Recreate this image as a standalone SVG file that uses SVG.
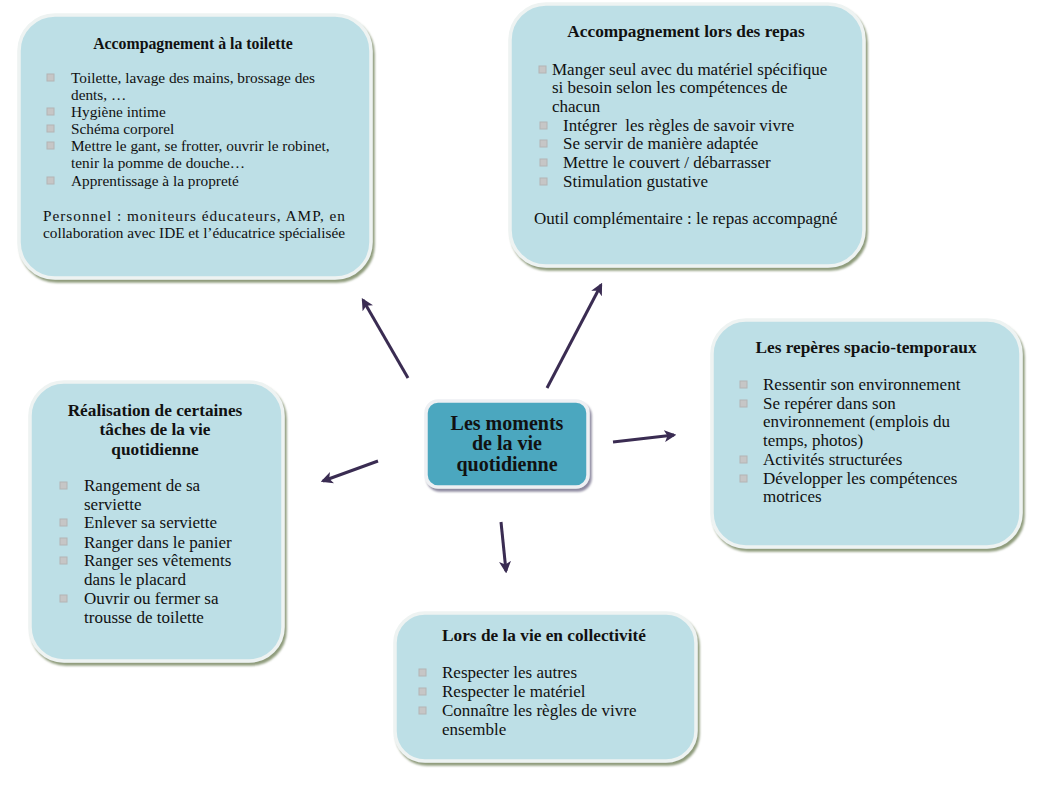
<svg xmlns="http://www.w3.org/2000/svg" width="1048" height="799" viewBox="0 0 1048 799">
<style>
  .box { fill: #bddfe6; stroke: #eef3f2; stroke-width: 3.5; filter: url(#sh); }
  .core { fill: #4ba7bf; stroke: #eef0f3; stroke-width: 3.5; filter: url(#sh2); }
  .t { font-family: "Liberation Serif", "DejaVu Serif", serif; font-size: 17px; fill: #111; }
  .t2 { font-family: "Liberation Serif", "DejaVu Serif", serif; font-size: 15.3px; fill: #111; }
  .h { font-family: "Liberation Serif", "DejaVu Serif", serif; font-size: 17.3px; font-weight: bold; fill: #111; text-anchor: middle; }
  .h2 { font-family: "Liberation Serif", "DejaVu Serif", serif; font-size: 15.8px; font-weight: bold; fill: #111; text-anchor: middle; }
  .c { font-family: "Liberation Serif", "DejaVu Serif", serif; font-size: 20px; font-weight: bold; fill: #111; text-anchor: middle; }
  .b { fill: #c6c6c6; stroke: #b4b4b4; stroke-width: 1; }
  .arr { stroke: #3a2c52; stroke-width: 3; fill: none; marker-end: url(#ah); }
</style>
<defs>
  <filter id="sh" x="-5%" y="-5%" width="112%" height="115%">
    <feGaussianBlur in="SourceAlpha" stdDeviation="1"/>
    <feOffset dx="2" dy="3" result="o"/>
    <feFlood flood-color="#8f9c7c"/>
    <feComposite in2="o" operator="in"/>
    <feMerge><feMergeNode/><feMergeNode in="SourceGraphic"/></feMerge>
  </filter>
  <filter id="sh2" x="-10%" y="-10%" width="125%" height="130%">
    <feGaussianBlur in="SourceAlpha" stdDeviation="1"/>
    <feOffset dx="2" dy="3" result="o"/>
    <feFlood flood-color="#8e8aa0"/>
    <feComposite in2="o" operator="in"/>
    <feMerge><feMergeNode/><feMergeNode in="SourceGraphic"/></feMerge>
  </filter>
  <marker id="ah" viewBox="0 0 10 10" refX="8" refY="5" markerWidth="4" markerHeight="4" orient="auto" markerUnits="strokeWidth">
    <path d="M0,0 L10,5 L0,10 L2.5,5 Z" fill="#3a2c52"/>
  </marker>
</defs>

<g id="connectors">
  <line class="arr" x1="408" y1="378" x2="363" y2="300"/>
  <line class="arr" x1="547" y1="388" x2="601" y2="285"/>
  <line class="arr" x1="378" y1="461" x2="323" y2="481"/>
  <line class="arr" x1="613" y1="442" x2="674" y2="435"/>
  <line class="arr" x1="501" y1="522" x2="506" y2="571"/>
</g>

<g id="node-toilette">
  <rect class="box" x="19" y="15" width="352" height="263" rx="36"/>
  <text class="h2" x="193" y="49">Accompagnement à la toilette</text>
  <rect class="b" x="47" y="74" width="7" height="7"/>
  <rect class="b" x="47" y="108" width="7" height="7"/>
  <rect class="b" x="47" y="125" width="7" height="7"/>
  <rect class="b" x="47" y="142" width="7" height="7"/>
  <rect class="b" x="47" y="177" width="7" height="7"/>
  <text class="t2" x="71" y="83">Toilette, lavage des mains, brossage des</text>
  <text class="t2" x="71" y="100">dents, …</text>
  <text class="t2" x="71" y="117">Hygiène intime</text>
  <text class="t2" x="71" y="134">Schéma corporel</text>
  <text class="t2" x="71" y="151">Mettre le gant, se frotter, ouvrir le robinet,</text>
  <text class="t2" x="71" y="168">tenir la pomme de douche…</text>
  <text class="t2" x="71" y="186">Apprentissage à la propreté</text>
  <text class="t2" x="43" y="221" textLength="302" lengthAdjust="spacing">Personnel : moniteurs éducateurs, AMP, en</text>
  <text class="t2" x="43" y="238" textLength="302" lengthAdjust="spacing">collaboration avec IDE et l’éducatrice spécialisée</text>
</g>

<g id="node-repas">
  <rect class="box" x="510" y="4" width="354" height="262" rx="36"/>
  <text class="h" x="686" y="37">Accompagnement lors des repas</text>
  <rect class="b" x="539" y="66" width="7" height="7"/>
  <rect class="b" x="540" y="122" width="7" height="7"/>
  <rect class="b" x="540" y="140" width="7" height="7"/>
  <rect class="b" x="540" y="159" width="7" height="7"/>
  <rect class="b" x="540" y="178" width="7" height="7"/>
  <text class="t" x="552" y="75">Manger seul avec du matériel spécifique</text>
  <text class="t" x="552" y="93">si besoin selon les compétences de</text>
  <text class="t" x="552" y="112">chacun</text>
  <text class="t" x="563" y="131" xml:space="preserve">Intégrer  les règles de savoir vivre</text>
  <text class="t" x="563" y="149">Se servir de manière adaptée</text>
  <text class="t" x="563" y="168">Mettre le couvert / débarrasser</text>
  <text class="t" x="563" y="187">Stimulation gustative</text>
  <text class="t" x="534" y="224">Outil complémentaire : le repas accompagné</text>
</g>

<g id="node-reperes">
  <rect class="box" x="712" y="320" width="309" height="227" rx="34"/>
  <text class="h" x="866" y="353">Les repères spacio-temporaux</text>
  <rect class="b" x="740" y="381" width="7" height="7"/>
  <rect class="b" x="740" y="400" width="7" height="7"/>
  <rect class="b" x="740" y="456" width="7" height="7"/>
  <rect class="b" x="740" y="475" width="7" height="7"/>
  <text class="t" x="763" y="390">Ressentir son environnement</text>
  <text class="t" x="763" y="409">Se repérer dans son</text>
  <text class="t" x="763" y="427">environnement (emplois du</text>
  <text class="t" x="763" y="446">temps, photos)</text>
  <text class="t" x="763" y="465">Activités structurées</text>
  <text class="t" x="763" y="484">Développer les compétences</text>
  <text class="t" x="763" y="502">motrices</text>
</g>

<g id="node-taches">
  <rect class="box" x="30" y="382" width="253" height="279" rx="34"/>
  <text class="h" x="155" y="416">Réalisation de certaines</text>
  <text class="h" x="155" y="435">tâches de la vie</text>
  <text class="h" x="155" y="455">quotidienne</text>
  <rect class="b" x="60" y="482" width="7" height="7"/>
  <rect class="b" x="60" y="519" width="7" height="7"/>
  <rect class="b" x="60" y="538" width="7" height="7"/>
  <rect class="b" x="60" y="557" width="7" height="7"/>
  <rect class="b" x="60" y="595" width="7" height="7"/>
  <text class="t" x="84" y="491">Rangement de sa</text>
  <text class="t" x="84" y="510">serviette</text>
  <text class="t" x="84" y="528">Enlever sa serviette</text>
  <text class="t" x="84" y="548">Ranger dans le panier</text>
  <text class="t" x="84" y="566">Ranger ses vêtements</text>
  <text class="t" x="84" y="585">dans le placard</text>
  <text class="t" x="84" y="604">Ouvrir ou fermer sa</text>
  <text class="t" x="84" y="623">trousse de toilette</text>
</g>

<g id="node-collectivite">
  <rect class="box" x="395" y="613" width="301" height="148" rx="30"/>
  <text class="h" x="544" y="641">Lors de la vie en collectivité</text>
  <rect class="b" x="419" y="669" width="7" height="7"/>
  <rect class="b" x="419" y="688" width="7" height="7"/>
  <rect class="b" x="419" y="707" width="7" height="7"/>
  <text class="t" x="442" y="678">Respecter les autres</text>
  <text class="t" x="442" y="697">Respecter le matériel</text>
  <text class="t" x="442" y="716">Connaître les règles de vivre</text>
  <text class="t" x="442" y="735">ensemble</text>
</g>

<g id="node-center">
  <rect class="core" x="426" y="401" width="162" height="86" rx="12"/>
  <text class="c" x="507" y="430">Les moments</text>
  <text class="c" x="507" y="450">de la vie</text>
  <text class="c" x="507" y="471">quotidienne</text>
</g>
</svg>
